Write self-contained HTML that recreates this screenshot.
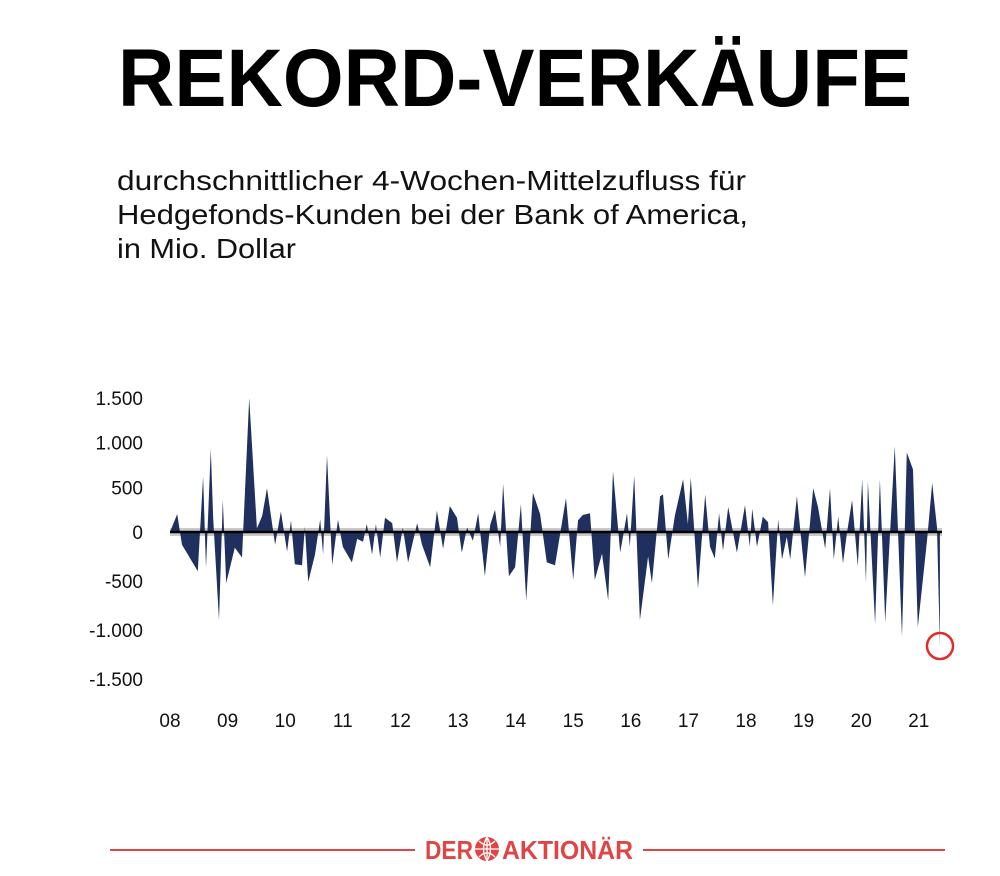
<!DOCTYPE html>
<html><head><meta charset="utf-8"><style>
html,body{margin:0;padding:0;background:#fff;}
svg{display:block;font-family:"Liberation Sans",sans-serif;}
</style></head><body>
<svg id="chart" width="1000" height="876" viewBox="0 0 1000 876" xmlns="http://www.w3.org/2000/svg">
<text x="118" y="106" font-size="82" font-weight="bold" textLength="794" lengthAdjust="spacingAndGlyphs" fill="#000">REKORD-VERKÄUFE</text>
<g font-size="28" fill="#111">
<text x="117" y="190" textLength="629" lengthAdjust="spacingAndGlyphs">durchschnittlicher 4-Wochen-Mittelzufluss für</text>
<text x="117" y="224" textLength="631" lengthAdjust="spacingAndGlyphs">Hedgefonds-Kunden bei der Bank of America,</text>
<text x="117" y="258" textLength="179" lengthAdjust="spacingAndGlyphs">in Mio. Dollar</text>
</g>
<g id="yaxis"></g>
<g id="xaxis"></g>
<rect x="170" y="528" width="772" height="8" fill="#bbb" opacity="0.8"/>
<path id="area" fill="#1f2f5e"/>
<line x1="170" x2="942" y1="532" y2="532" stroke="#000" stroke-width="2.5"/>
<circle cx="940" cy="646" r="13" fill="none" stroke="#e32b2b" stroke-width="2.5"/>
<g>
<line x1="110" x2="415" y1="850" y2="850" stroke="#e04545" stroke-width="2"/>
<line x1="643" x2="945" y1="850" y2="850" stroke="#e04545" stroke-width="2"/>
<text x="425" y="859" font-size="26" font-weight="bold" fill="#e04545" textLength="48" lengthAdjust="spacingAndGlyphs">DER</text>
<circle cx="487" cy="849" r="12" fill="#e04545"/>
<path d="M475 849h24M487 837v24M479 841q8 8 16 0M479 857q8-8 16 0M487 837q-7 12 0 24M487 837q7 12 0 24" stroke="#fff" stroke-width="1.3" fill="none"/>
<text x="502" y="859" font-size="26" font-weight="bold" fill="#e04545" textLength="131" lengthAdjust="spacingAndGlyphs">AKTIONÄR</text>
</g>
</svg>
<script>
const months=[0,1.5,2.5,5.8,6.9,7.5,8.5,9,10.2,11,11.7,13.5,15,16.5,18.1,19.2,20.2,21.9,23.1,24.4,25.2,26,27.5,28.1,28.8,30.2,31.3,31.9,32.7,33.8,35,36,37.9,39,40.2,41,42.1,42.9,43.8,44.8,46.3,47.3,48.5,49.6,51.5,52.5,54.2,55.6,56.9,58.3,59.8,60.8,61.9,63.1,64.2,65.6,66.7,67.7,68.8,69.4,70.6,71.9,73.1,74.2,75.6,77.1,78.5,80.2,82.5,84,85,86,87.5,88.5,90,91.3,92.3,93.8,95.2,95.8,96.7,97.9,99.6,100.4,102.1,102.7,103.8,105.2,106.9,107.9,108.5,110,111.5,112.5,113.5,114.4,115.2,116.3,118.1,119.8,120.8,121.3,122.3,123.5,124.6,125.6,126.7,127.5,128.5,129.2,130.6,132.3,134,135,136.5,137.5,138.3,139.2,140.2,141,142.1,143.3,144.2,145,145.4,146.9,147.9,149,151,152.5,153.5,154.8,155.8,157.7,158.8,159.8,160.4];
const flows=[0,200,-130,-400,620,-370,930,150,-900,360,-520,-160,-260,1500,40,180,490,-130,230,-200,130,-330,-340,60,-510,-230,140,-230,860,-340,140,-150,-310,-70,-100,90,-230,90,-260,160,100,-310,50,-310,100,-130,-360,240,-170,290,160,-210,50,-90,210,-450,80,250,-150,540,-450,-360,310,-700,440,200,-310,-340,380,-490,130,190,210,-490,-220,-700,680,-210,210,-150,630,-900,-250,-520,400,420,-280,190,590,90,610,-580,420,-150,-270,210,-190,280,-210,300,-150,260,-150,170,110,-750,140,-280,-50,-280,400,-460,490,280,-170,490,-280,170,-320,-20,360,-350,590,-520,570,-940,590,-920,960,-1070,890,700,-970,-90,550,50,-1170];
const yTicks=[1500,1000,500,0,-500,-1000,-1500];
const yTickLabels=["1.500","1.000","500","0","-500","-1.000","-1.500"];
const xTickLabels=["08","09","10","11","12","13","14","15","16","17","18","19","20","21"];
const NS="http://www.w3.org/2000/svg";
function xScale(m){return 170+m*4.8;}
function yScale(v){return v>=0?532-v*0.0893:532-v*0.098;}
const ya=document.getElementById('yaxis');
yTicks.forEach((v,i)=>{
  const t=document.createElementNS(NS,'text');
  
  
  t.setAttribute('x',143);t.setAttribute('y',yScale(v)+7);
  t.setAttribute('text-anchor','end');t.setAttribute('font-size','19');t.setAttribute('fill','#111');
  t.textContent=yTickLabels[i];ya.appendChild(t);
});
const xa=document.getElementById('xaxis');
xTickLabels.forEach((l,i)=>{
  const t=document.createElementNS(NS,'text');
  
  
  t.setAttribute('x',xScale(i*12));t.setAttribute('y',727);
  t.setAttribute('text-anchor','middle');t.setAttribute('font-size','19');t.setAttribute('fill','#111');
  t.textContent=l;xa.appendChild(t);
});
let d='M'+xScale(months[0])+' '+yScale(0);
months.forEach((m,i)=>{d+=' L'+xScale(m).toFixed(1)+' '+yScale(flows[i]).toFixed(1);});
d+=' L'+xScale(months[months.length-1]).toFixed(1)+' '+yScale(0)+' Z';
document.getElementById('area').setAttribute('d',d);
</script>
</body></html>
